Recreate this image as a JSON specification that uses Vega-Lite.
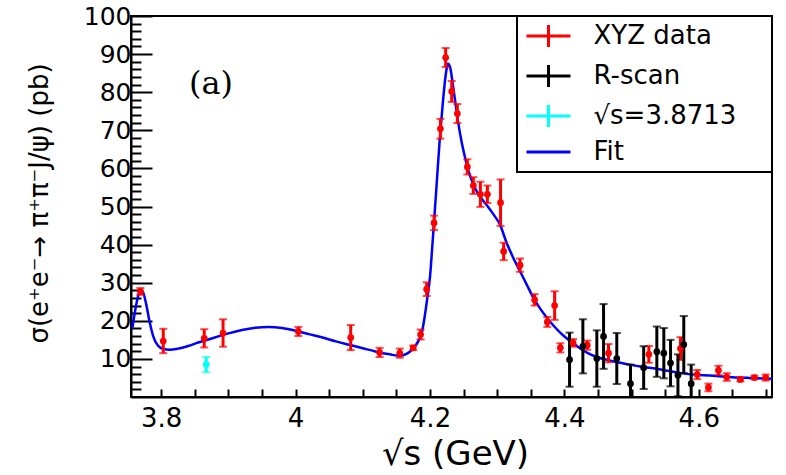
{
  "$schema": "https://vega.github.io/schema/vega-lite/v6.json",
  "width": 641,
  "height": 381,
  "autosize": {"type": "none"},
  "padding": {"left": 131, "top": 16, "right": 14, "bottom": 78},
  "background": "white",
  "config": {
    "view": {"stroke": "black", "strokeWidth": 2},
    "axis": {
      "grid": false,
      "domainColor": "black",
      "domainWidth": 2,
      "tickColor": "black",
      "tickWidth": 2,
      "labelColor": "black",
      "titleColor": "black",
      "labelFont": "DejaVu Sans",
      "titleFont": "DejaVu Sans",
      "titleFontWeight": "normal"
    }
  },
  "datasets": {
    "fit": [
      {"x": 3.757, "y": 18.0}, {"x": 3.762, "y": 23.5}, {"x": 3.767, "y": 27.3}, {"x": 3.770, "y": 28.0},
      {"x": 3.774, "y": 27.0}, {"x": 3.778, "y": 24.0}, {"x": 3.783, "y": 19.5}, {"x": 3.788, "y": 16.0},
      {"x": 3.795, "y": 13.5}, {"x": 3.803, "y": 12.6}, {"x": 3.812, "y": 12.4}, {"x": 3.825, "y": 12.7},
      {"x": 3.84, "y": 13.4}, {"x": 3.855, "y": 14.3}, {"x": 3.87, "y": 15.1}, {"x": 3.885, "y": 15.9},
      {"x": 3.9, "y": 16.7}, {"x": 3.92, "y": 17.6}, {"x": 3.94, "y": 18.2}, {"x": 3.96, "y": 18.4},
      {"x": 3.98, "y": 18.1}, {"x": 4.0, "y": 17.4}, {"x": 4.02, "y": 16.5}, {"x": 4.04, "y": 15.6},
      {"x": 4.06, "y": 14.6}, {"x": 4.08, "y": 13.7}, {"x": 4.1, "y": 12.8}, {"x": 4.12, "y": 11.9},
      {"x": 4.14, "y": 11.2}, {"x": 4.155, "y": 10.8}, {"x": 4.165, "y": 11.3}, {"x": 4.172, "y": 12.2},
      {"x": 4.178, "y": 13.4}, {"x": 4.183, "y": 14.8}, {"x": 4.188, "y": 17.0}, {"x": 4.192, "y": 21.0},
      {"x": 4.196, "y": 26.0}, {"x": 4.2, "y": 31.5}, {"x": 4.204, "y": 41.0}, {"x": 4.209, "y": 53.5},
      {"x": 4.2144, "y": 67.4}, {"x": 4.219, "y": 77.0}, {"x": 4.223, "y": 84.0}, {"x": 4.227, "y": 87.5},
      {"x": 4.230, "y": 86.5}, {"x": 4.234, "y": 82.0}, {"x": 4.238, "y": 77.0}, {"x": 4.242, "y": 72.0},
      {"x": 4.247, "y": 67.0}, {"x": 4.252, "y": 63.0}, {"x": 4.257, "y": 59.5}, {"x": 4.263, "y": 56.5},
      {"x": 4.27, "y": 53.8}, {"x": 4.278, "y": 51.8}, {"x": 4.286, "y": 50.0}, {"x": 4.295, "y": 47.8},
      {"x": 4.304, "y": 45.3}, {"x": 4.314, "y": 40.5}, {"x": 4.324, "y": 36.5}, {"x": 4.334, "y": 33.0},
      {"x": 4.344, "y": 29.5}, {"x": 4.354, "y": 26.0}, {"x": 4.364, "y": 23.2}, {"x": 4.374, "y": 20.8},
      {"x": 4.386, "y": 18.3}, {"x": 4.398, "y": 16.2}, {"x": 4.41, "y": 14.5}, {"x": 4.423, "y": 12.8},
      {"x": 4.435, "y": 11.5}, {"x": 4.448, "y": 10.5}, {"x": 4.46, "y": 9.9}, {"x": 4.472, "y": 9.4},
      {"x": 4.485, "y": 8.9}, {"x": 4.497, "y": 8.5}, {"x": 4.517, "y": 7.9}, {"x": 4.537, "y": 7.4},
      {"x": 4.556, "y": 6.8}, {"x": 4.576, "y": 6.2}, {"x": 4.6, "y": 5.8}, {"x": 4.626, "y": 5.5},
      {"x": 4.65, "y": 5.2}, {"x": 4.675, "y": 5.0}, {"x": 4.709, "y": 4.8}
    ],
    "points": [
      {"series": "XYZ data", "x": 3.769, "y": 27.7, "e": 0.9},
      {"series": "XYZ data", "x": 3.803, "y": 14.7, "e": 3.2},
      {"series": "XYZ data", "x": 3.864, "y": 15.4, "e": 2.4},
      {"series": "XYZ data", "x": 3.892, "y": 16.8, "e": 3.6},
      {"series": "XYZ data", "x": 4.004, "y": 17.2, "e": 1.2},
      {"series": "XYZ data", "x": 4.082, "y": 15.6, "e": 3.3},
      {"series": "XYZ data", "x": 4.125, "y": 11.7, "e": 1.2},
      {"series": "XYZ data", "x": 4.155, "y": 11.5, "e": 1.2},
      {"series": "XYZ data", "x": 4.175, "y": 12.9, "e": 0.6},
      {"series": "XYZ data", "x": 4.186, "y": 16.4, "e": 1.3},
      {"series": "XYZ data", "x": 4.195, "y": 28.3, "e": 1.8},
      {"series": "XYZ data", "x": 4.206, "y": 45.7, "e": 1.9},
      {"series": "XYZ data", "x": 4.2155, "y": 70.4, "e": 2.6},
      {"series": "XYZ data", "x": 4.2233, "y": 89.1, "e": 2.5},
      {"series": "XYZ data", "x": 4.2323, "y": 80.2, "e": 2.75},
      {"series": "XYZ data", "x": 4.2407, "y": 74.4, "e": 2.5},
      {"series": "XYZ data", "x": 4.2556, "y": 60.4, "e": 2.0},
      {"series": "XYZ data", "x": 4.2645, "y": 55.5, "e": 2.2},
      {"series": "XYZ data", "x": 4.275, "y": 53.2, "e": 3.3},
      {"series": "XYZ data", "x": 4.2854, "y": 53.2, "e": 2.3},
      {"series": "XYZ data", "x": 4.305, "y": 51.0, "e": 6.1},
      {"series": "XYZ data", "x": 4.3096, "y": 38.2, "e": 2.3},
      {"series": "XYZ data", "x": 4.334, "y": 34.6, "e": 1.75},
      {"series": "XYZ data", "x": 4.3557, "y": 25.5, "e": 1.5},
      {"series": "XYZ data", "x": 4.3746, "y": 19.7, "e": 1.3},
      {"series": "XYZ data", "x": 4.3855, "y": 24.0, "e": 3.75},
      {"series": "XYZ data", "x": 4.394, "y": 12.9, "e": 1.2},
      {"series": "XYZ data", "x": 4.413, "y": 14.2, "e": 1.0},
      {"series": "XYZ data", "x": 4.434, "y": 13.6, "e": 1.2},
      {"series": "XYZ data", "x": 4.4657, "y": 11.5, "e": 2.4},
      {"series": "XYZ data", "x": 4.5257, "y": 11.2, "e": 2.2},
      {"series": "XYZ data", "x": 4.5728, "y": 12.7, "e": 3.0},
      {"series": "XYZ data", "x": 4.5977, "y": 5.9, "e": 1.2},
      {"series": "XYZ data", "x": 4.6144, "y": 2.5, "e": 1.0},
      {"series": "XYZ data", "x": 4.6293, "y": 7.0, "e": 1.2},
      {"series": "XYZ data", "x": 4.6417, "y": 5.25, "e": 1.0},
      {"series": "XYZ data", "x": 4.662, "y": 4.6, "e": 0.5},
      {"series": "XYZ data", "x": 4.6828, "y": 5.1, "e": 0.5},
      {"series": "XYZ data", "x": 4.6996, "y": 5.1, "e": 0.8},
      {"series": "R-scan", "x": 4.4077, "y": 9.8, "e": 7.1},
      {"series": "R-scan", "x": 4.4275, "y": 13.3, "e": 7.1},
      {"series": "R-scan", "x": 4.4483, "y": 10.1, "e": 7.4},
      {"series": "R-scan", "x": 4.4583, "y": 15.9, "e": 8.5},
      {"series": "R-scan", "x": 4.478, "y": 10.1, "e": 6.7},
      {"series": "R-scan", "x": 4.4984, "y": 3.5, "e": 5.0},
      {"series": "R-scan", "x": 4.518, "y": 7.7, "e": 5.6},
      {"series": "R-scan", "x": 4.5376, "y": 11.9, "e": 6.6},
      {"series": "R-scan", "x": 4.548, "y": 11.5, "e": 6.6},
      {"series": "R-scan", "x": 4.558, "y": 8.9, "e": 6.1},
      {"series": "R-scan", "x": 4.569, "y": 5.7, "e": 5.5},
      {"series": "R-scan", "x": 4.5777, "y": 13.75, "e": 7.5},
      {"series": "R-scan", "x": 4.5887, "y": 3.5, "e": 5.0},
      {"series": "√s=3.8713", "x": 3.867, "y": 8.5, "e": 2.0}
    ],
    "label": [{"label": "(a)", "x": 3.874, "y": 82.1}]
  },
  "layer": [
    {
      "data": {"name": "fit"},
      "mark": {"type": "line", "interpolate": "monotone", "strokeWidth": 2.5, "clip": true},
      "encoding": {
        "x": {
          "field": "x", "type": "quantitative",
          "scale": {"domain": [3.755, 4.709], "nice": false, "zero": false},
          "axis": {
            "orient": "bottom",
            "values": [3.8, 3.85, 3.9, 3.95, 4, 4.05, 4.1, 4.15, 4.2, 4.25, 4.3, 4.35, 4.4, 4.45, 4.5, 4.55, 4.6, 4.65, 4.7],
            "tickSize": -8,
            "labelPadding": 37,
            "labelBaseline": "alphabetic",
            "labelFontSize": 26,
            "labelFlush": false,
            "labelOverlap": false,
            "labelExpr": "indexof([3.8, 4, 4.2, 4.4, 4.6], datum.value) >= 0 ? format(datum.value, '~g') : ''",
            "title": "√s (GeV)",
            "titleFontSize": 34,
            "titleX": 324,
            "titleY": 67,
            "titleBaseline": "alphabetic",
            "titleAlign": "center"
          }
        },
        "y": {
          "field": "y", "type": "quantitative",
          "scale": {"domain": [0, 100], "nice": false, "zero": false},
          "axis": {
            "orient": "left",
            "values": [10, 20, 30, 40, 50, 60, 70, 80, 90, 100],
            "tickSize": -21,
            "labelPadding": 21,
            "labelFontSize": 25,
            "labelFlush": false,
            "labelOverlap": false,
            "title": "σ(e⁺e⁻→ π⁺π⁻J/ψ) (pb)",
            "titleFontSize": 26,
            "titleX": -84,
            "titleY": 187,
            "titleBaseline": "alphabetic",
            "titleAlign": "center",
            "titleAngle": 270
          }
        },
        "color": {
          "datum": "Fit",
          "scale": {"domain": ["XYZ data", "R-scan", "√s=3.8713", "Fit"], "range": ["#ff0000", "#000000", "#00ffff", "#0000ff"]},
          "legend": {
            "orient": "top-right", "offset": 0, "title": " ", "titleOrient": "right", "titlePadding": 29, "titleFontSize": 26,
            "padding": 7, "strokeColor": "black", "fillColor": "white",
            "labelFont": "DejaVu Sans", "labelFontSize": 26, "labelColor": "black", "labelLimit": 400, "labelOffset": 32,
            "symbolSize": 484, "symbolStrokeWidth": 3, "symbolOffset": 11.5, "rowPadding": 6,
            "encode": {
              "legend": {"update": {"strokeWidth": {"value": 2}}},
              "symbols": {"update": {
                "shape": {"signal": "datum.value === 'Fit' ? 'M-2,0H2' : 'M-2,0H2M0,-1V1'"},
                "stroke": {"scale": "color", "field": "value"},
                "fill": {"value": "transparent"},
                "strokeWidth": {"value": 3},
                "opacity": {"value": 1}
              }}
            }
          }
        }
      }
    },
    {
      "data": {"name": "points"},
      "mark": {"type": "errorbar", "ticks": {"size": 8, "thickness": 2}, "rule": {"strokeWidth": 3}, "clip": true},
      "encoding": {
        "x": {"field": "x", "type": "quantitative", "axis": null},
        "y": {"field": "y", "type": "quantitative", "axis": null},
        "yError": {"field": "e"},
        "color": {
          "field": "series", "type": "nominal",
          "scale": {"domain": ["XYZ data", "R-scan", "√s=3.8713", "Fit"], "range": ["#ff0000", "#000000", "#00ffff", "#0000ff"]},
          "legend": {
            "orient": "top-right", "offset": 0, "title": " ", "titleOrient": "right", "titlePadding": 29, "titleFontSize": 26,
            "padding": 7, "strokeColor": "black", "fillColor": "white",
            "labelFont": "DejaVu Sans", "labelFontSize": 26, "labelColor": "black", "labelLimit": 400, "labelOffset": 32,
            "symbolSize": 484, "symbolStrokeWidth": 3, "symbolOffset": 11.5, "rowPadding": 6,
            "encode": {
              "legend": {"update": {"strokeWidth": {"value": 2}}},
              "symbols": {"update": {
                "shape": {"signal": "datum.value === 'Fit' ? 'M-2,0H2' : 'M-2,0H2M0,-1V1'"},
                "stroke": {"scale": "color", "field": "value"},
                "fill": {"value": "transparent"},
                "strokeWidth": {"value": 3},
                "opacity": {"value": 1}
              }}
            }
          }
        }
      }
    },
    {
      "data": {"name": "points"},
      "mark": {"type": "point", "filled": true, "size": 45, "opacity": 1, "shape": "circle"},
      "encoding": {
        "x": {"field": "x", "type": "quantitative", "axis": null},
        "y": {
          "field": "y", "type": "quantitative",
          "axis": {
            "orient": "left",
            "values": [2, 4, 6, 8, 12, 14, 16, 18, 22, 24, 26, 28, 32, 34, 36, 38, 42, 44, 46, 48, 52, 54, 56, 58, 62, 64, 66, 68, 72, 74, 76, 78, 82, 84, 86, 88, 92, 94, 96, 98],
            "tickSize": -10,
            "labels": false,
            "domain": false,
            "title": null
          }
        },
        "color": {
          "field": "series", "type": "nominal",
          "scale": {"domain": ["XYZ data", "R-scan", "√s=3.8713", "Fit"], "range": ["#ff0000", "#000000", "#00ffff", "#0000ff"]},
          "legend": {
            "orient": "top-right", "offset": 0, "title": " ", "titleOrient": "right", "titlePadding": 29, "titleFontSize": 26,
            "padding": 7, "strokeColor": "black", "fillColor": "white",
            "labelFont": "DejaVu Sans", "labelFontSize": 26, "labelColor": "black", "labelLimit": 400, "labelOffset": 32,
            "symbolSize": 484, "symbolStrokeWidth": 3, "symbolOffset": 11.5, "rowPadding": 6,
            "encode": {
              "legend": {"update": {"strokeWidth": {"value": 2}}},
              "symbols": {"update": {
                "shape": {"signal": "datum.value === 'Fit' ? 'M-2,0H2' : 'M-2,0H2M0,-1V1'"},
                "stroke": {"scale": "color", "field": "value"},
                "fill": {"value": "transparent"},
                "strokeWidth": {"value": 3},
                "opacity": {"value": 1}
              }}
            }
          }
        }
      }
    },
    {
      "data": {"name": "label"},
      "mark": {"type": "text", "font": "DejaVu Serif", "fontSize": 32, "align": "center", "baseline": "middle", "color": "black"},
      "encoding": {
        "x": {"field": "x", "type": "quantitative", "axis": null},
        "y": {"field": "y", "type": "quantitative", "axis": null},
        "text": {"field": "label"}
      }
    }
  ],
  "resolve": {"axis": {"x": "independent", "y": "independent"}}
}
